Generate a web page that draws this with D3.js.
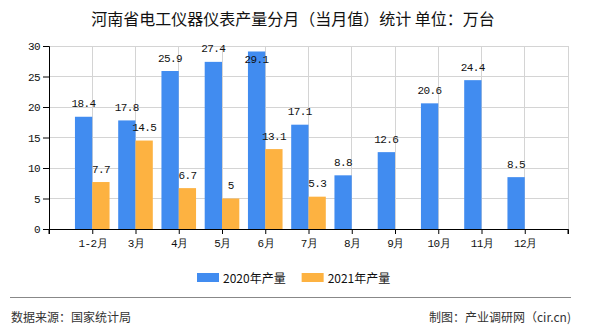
<!DOCTYPE html>
<html>
<head>
<meta charset="utf-8">
<script src="https://cdn.jsdelivr.net/npm/d3@7"></script>
<style>
  html, body { margin: 0; padding: 0; background: #fff; }
  svg { display: block; }
</style>
</head>
<body>
<svg id="chart" width="590" height="330"></svg>
<script>
// Monthly output of electrical instruments & meters in Henan (10k units)
const categories = ["1-2月", "3月", "4月", "5月", "6月", "7月", "8月", "9月", "10月", "11月", "12月"];
const values2020 = [18.4, 17.8, 25.9, 27.4, 29.1, 17.1, 8.8, 12.6, 20.6, 24.4, 8.5];
const values2021 = [7.7, 14.5, 6.7, 5, 13.1, 5.3, null, null, null, null, null];
const seriesNames = ["2020年产量", "2021年产量"];
const seriesColors = ["#418CF0", "#FDB241"];
const yTicks = [0, 5, 10, 15, 20, 25, 30];

const svg = d3.select("#chart");
const plot = { left: 49, right: 568, top: 46, bottom: 229 };

const monoFont = "'Liberation Mono', 'DejaVu Sans Mono', monospace";
const cjkFont = "'Noto Sans CJK SC', 'Noto Sans', sans-serif";

const x = d3.scalePoint().domain(categories).range([plot.left, plot.right]).padding(1);
const step = x.step();
const y = d3.scaleLinear().domain([0, 30]).range([plot.bottom, plot.top]);
const barW = step * 0.4;

// Title
svg.append("text")
  .attr("x", 293).attr("y", 18)
  .attr("text-anchor", "middle").attr("dominant-baseline", "central")
  .style("font-family", cjkFont).style("font-size", "16px").style("fill", "#111")
  .text("河南省电工仪器仪表产量分月（当月值）统计 单位：万台");

// Grid
const gridPositions = d3.range(0, categories.length + 2).map(i => plot.left + i * step);
svg.append("g").selectAll("line.v").data(gridPositions).join("line")
  .attr("x1", d => d).attr("x2", d => d)
  .attr("y1", plot.top).attr("y2", plot.bottom)
  .attr("stroke", "#d4d4d4").attr("stroke-width", 1).attr("shape-rendering", "crispEdges");
svg.append("g").selectAll("line.h").data(yTicks.filter(t => t > 0)).join("line")
  .attr("x1", plot.left).attr("x2", plot.right)
  .attr("y1", d => y(d)).attr("y2", d => y(d))
  .attr("stroke", "#d4d4d4").attr("stroke-width", 1).attr("shape-rendering", "crispEdges");

// Bars
const barData = [];
categories.forEach((c, i) => {
  [values2020, values2021].forEach((arr, s) => {
    if (arr[i] != null) barData.push({ cat: c, s, v: arr[i] });
  });
});
svg.append("g").selectAll("rect").data(barData).join("rect")
  .attr("x", d => x(d.cat) + (d.s === 0 ? -barW : 0))
  .attr("width", barW)
  .attr("y", d => y(d.v))
  .attr("height", d => y(0) - y(d.v))
  .attr("fill", d => seriesColors[d.s]);

// Value labels
svg.append("g").selectAll("text").data(barData).join("text")
  .attr("x", d => x(d.cat) + (d.s === 0 ? -barW / 2 : barW / 2))
  .attr("y", d => {
    const top = y(d.v);
    return top - 12.5 < plot.top ? top + 8.7 : top - 12.5;
  })
  .attr("text-anchor", "middle").attr("dominant-baseline", "central")
  .style("font-family", monoFont).style("font-size", "11px").style("letter-spacing", "-0.6px")
  .style("fill", "#111")
  .text(d => d.v);

// Y axis
const yAxis = d3.axisLeft(y).tickValues(yTicks).tickSize(6).tickPadding(3);
const gy = svg.append("g").attr("transform", `translate(${plot.left},0)`).call(yAxis);
gy.select(".domain").attr("stroke", "#000");
gy.selectAll(".tick line").attr("stroke", "#000");
gy.selectAll(".tick text")
  .style("font-family", monoFont).style("font-size", "11px").style("letter-spacing", "-0.6px")
  .style("fill", "#111");

// X axis
const xAxis = d3.axisBottom(x).tickSize(5).tickPadding(5).tickSizeOuter(5);
const gx = svg.append("g").attr("transform", `translate(0,${plot.bottom})`).call(xAxis);
gx.select(".domain").attr("stroke", "#000");
gx.selectAll(".tick line").attr("stroke", "#000");
gx.selectAll(".tick text")
  .style("font-family", monoFont).style("font-size", "11px").style("letter-spacing", "-0.6px")
  .style("fill", "#111");
// boundary ticks at the grid edges
[plot.left, plot.right].forEach(px => {
  gx.append("line").attr("x1", px).attr("x2", px).attr("y1", 0).attr("y2", 5).attr("stroke", "#000");
});

// Legend
const legend = svg.append("g");
let lx = 197;
seriesNames.forEach((name, i) => {
  legend.append("rect").attr("x", lx).attr("y", 273).attr("width", 22).attr("height", 9)
    .attr("fill", seriesColors[i]);
  const t = legend.append("text").attr("x", lx + 26).attr("y", 277.5)
    .attr("dominant-baseline", "central")
    .style("font-family", cjkFont).style("font-size", "12px").style("fill", "#111")
    .text(name);
  lx = lx + 26 + t.node().getComputedTextLength() + 16;
});

// Footer
svg.append("line").attr("x1", 10).attr("x2", 571).attr("y1", 297.5).attr("y2", 297.5)
  .attr("stroke", "#888").attr("stroke-width", 1);
svg.append("text").attr("x", 11).attr("y", 316).attr("dominant-baseline", "central")
  .style("font-family", cjkFont).style("font-size", "12px").style("fill", "#333")
  .text("数据来源：国家统计局");
svg.append("text").attr("x", 571).attr("y", 316).attr("text-anchor", "end").attr("dominant-baseline", "central")
  .style("font-family", cjkFont).style("font-size", "12px").style("fill", "#333")
  .text("制图：产业调研网（cir.cn)");
</script>
</body>
</html>
